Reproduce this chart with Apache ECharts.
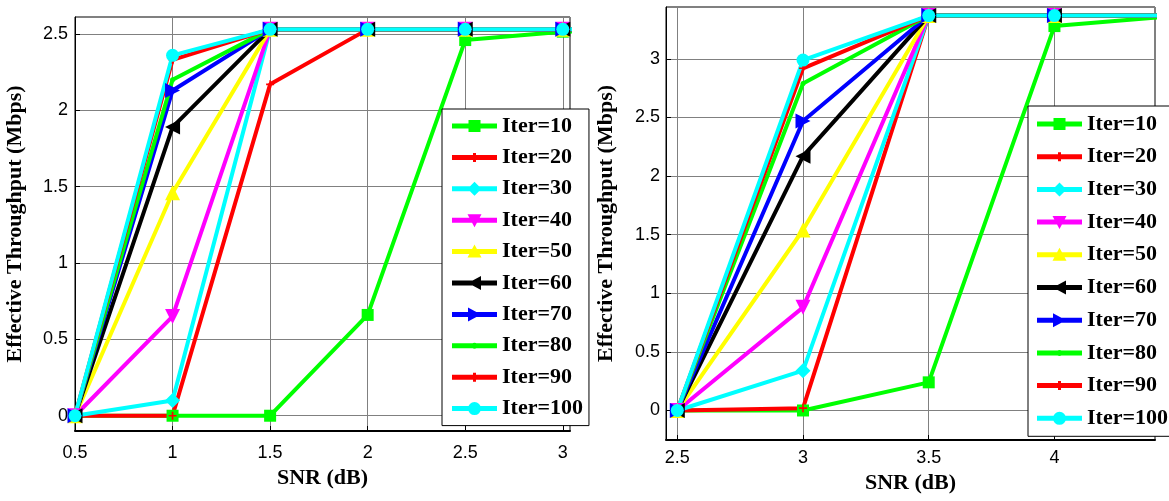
<!DOCTYPE html>
<html>
<head>
<meta charset="utf-8">
<script src="https://cdn.jsdelivr.net/npm/echarts@6/dist/echarts.min.js"></script>
<style>
html,body{margin:0;padding:0;background:#fff;}
#chart{width:1169px;height:501px;}
</style>
</head>
<body>
<div id="chart"></div>
<script>
// ---------- data ----------
const seriesNames = ['Iter=10','Iter=20','Iter=30','Iter=40','Iter=50','Iter=60','Iter=70','Iter=80','Iter=90','Iter=100'];

const leftSNR = [0.5, 1, 1.5, 2, 2.5, 3, 3.5];
const leftIter10  = [0, 0,     0,    0.66, 2.46, 2.515, 2.53];
const leftIter20  = [0, 0,     2.17, 2.53, 2.53, 2.53, 2.53];
const leftIter30  = [0, 0.10,  2.53, 2.53, 2.53, 2.53, 2.53];
const leftIter40  = [0, 0.65,  2.53, 2.53, 2.53, 2.53, 2.53];
const leftIter50  = [0, 1.46,  2.53, 2.53, 2.53, 2.53, 2.53];
const leftIter60  = [0, 1.89,  2.53, 2.53, 2.53, 2.53, 2.53];
const leftIter70  = [0, 2.13,  2.53, 2.53, 2.53, 2.53, 2.53];
const leftIter80  = [0, 2.20,  2.53, 2.53, 2.53, 2.53, 2.53];
const leftIter90  = [0, 2.33,  2.53, 2.53, 2.53, 2.53, 2.53];
const leftIter100 = [0, 2.36,  2.53, 2.53, 2.53, 2.53, 2.53];

const rightSNR = [2.5, 3, 3.5, 4, 4.5];
const rightIter10  = [0, 0,    0.24, 3.28, 3.37];
const rightIter20  = [0, 0.02, 3.37, 3.37, 3.37];
const rightIter30  = [0, 0.34, 3.37, 3.37, 3.37];
const rightIter40  = [0, 0.88, 3.37, 3.37, 3.37];
const rightIter50  = [0, 1.54, 3.37, 3.37, 3.37];
const rightIter60  = [0, 2.17, 3.37, 3.37, 3.37];
const rightIter70  = [0, 2.47, 3.37, 3.37, 3.37];
const rightIter80  = [0, 2.79, 3.37, 3.37, 3.37];
const rightIter90  = [0, 2.92, 3.37, 3.37, 3.37];
const rightIter100 = [0, 2.99, 3.37, 3.37, 3.37];

const leftValues  = [leftIter10,leftIter20,leftIter30,leftIter40,leftIter50,leftIter60,leftIter70,leftIter80,leftIter90,leftIter100];
const rightValues = [rightIter10,rightIter20,rightIter30,rightIter40,rightIter50,rightIter60,rightIter70,rightIter80,rightIter90,rightIter100];

const xTitle = 'SNR (dB)';
const yTitle = 'Effective Throughput (Mbps)';

// ---------- styles ----------
const PLUS = 'path://M0,4L10,4L10,6L0,6Z M4,0L6,0L6,10L4,10Z';
const styles = [
  {color:'#00ff00', symbol:'rect', size:12, rot:0},
  {color:'#ff0000', symbol:PLUS, size:8, rot:0},
  {color:'#00ffff', symbol:'diamond', size:15, rot:0},
  {color:'#ff00ff', symbol:'triangle', size:15, rot:180},
  {color:'#ffff00', symbol:'triangle', size:15, rot:0},
  {color:'#000000', symbol:'triangle', size:15, rot:90},
  {color:'#0000ff', symbol:'triangle', size:15, rot:-90},
  {color:'#00ff00', symbol:'circle', size:5, rot:0},
  {color:'#ff0000', symbol:PLUS, size:8, rot:0},
  {color:'#00ffff', symbol:'circle', size:13, rot:0}
];

// legend icons: line + marker drawn in a 45x16 box
const BOX = 'M0,0L0.01,0L0.01,0.01Z M44.99,15.99L45,15.99L45,16L44.99,16Z ';
const LINE = 'M0,5.5L45,5.5L45,10.5L0,10.5Z ';
const markerPaths = [
  'M16.5,2L28.5,2L28.5,14L16.5,14Z',
  'M21,3.5L24,3.5L24,12.5L21,12.5Z',
  'M22.5,1L29.5,8L22.5,15L15.5,8Z',
  'M15.5,2L29.5,2L22.5,15Z',
  'M22.5,1L29.5,14L15.5,14Z',
  'M16,8L29,1L29,15Z',
  'M29,8L16,15L16,1Z',
  'M19.5,8A3,3 0 1,1 25.5,8A3,3 0 1,1 19.5,8Z',
  'M21,3.5L24,3.5L24,12.5L21,12.5Z',
  'M16,8A6.5,6.5 0 1,1 29,8A6.5,6.5 0 1,1 16,8Z'
];
const legendIcons = markerPaths.map(p => 'path://' + BOX + LINE + p);

function makeSeries(xs, values, idx) {
  return values.map((vals, i) => ({
    name: seriesNames[i],
    type: 'line',
    xAxisIndex: idx, yAxisIndex: idx,
    data: xs.map((x, j) => [x, vals[j]]),
    symbol: styles[i].symbol,
    symbolSize: styles[i].size,
    symbolRotate: styles[i].rot,
    showSymbol: true,
    clip: true,
    lineStyle: {color: styles[i].color, width: 4},
    itemStyle: {color: styles[i].color},
    emphasis: {disabled: true}
  }));
}

const tickFont = {fontFamily:'Liberation Sans', fontSize:18, color:'#000'};
const titleFont = {fontFamily:'Liberation Serif', fontWeight:'bold', fontSize:22, color:'#000'};
const split = {show:true, lineStyle:{color:'#808080', width:1}};

function xAxis(idx, min, max, splitN, margin, gap) {
  return {
    type:'value', gridIndex: idx, min, max, splitNumber: splitN,
    name: xTitle, nameLocation:'middle', nameGap: gap, nameTextStyle: titleFont,
    axisLine:{show:true, onZero:false, lineStyle:{color:'#000', width:2}},
    axisTick:{show:true, inside:true, length:5, lineStyle:{color:'#000'}},
    axisLabel:{...tickFont, margin, showMinLabel: idx===0, showMaxLabel:false},
    splitLine: split
  };
}
function yAxis(idx, min, max, splitN, margin, gap) {
  return {
    type:'value', gridIndex: idx, min, max, splitNumber: splitN,
    name: yTitle, nameLocation:'middle', nameGap: gap, nameRotate: 90, nameTextStyle: titleFont,
    axisLine:{show:true, onZero:false, lineStyle:{color:'#000', width:1}},
    axisTick:{show:true, inside:true, length:5, lineStyle:{color:'#000'}},
    axisLabel:{...tickFont, margin, showMinLabel:false, showMaxLabel:false},
    splitLine: split
  };
}

function legend(left, top, pad, gap) {
  return {
    show:true, orient:'vertical', left, top,
    data: seriesNames.map((n, i) => ({name: n, icon: legendIcons[i]})),
    padding: pad, itemGap: gap,
    itemWidth: 45, itemHeight: 16,
    symbolRotate: 0,
    itemStyle:{borderWidth:0},
    backgroundColor:'#fff', borderColor:'#000', borderWidth:1, borderRadius:0,
    textStyle:{fontFamily:'Liberation Serif', fontWeight:'bold', fontSize:22, lineHeight:21, color:'#000'},
    selectedMode:false
  };
}

const chart = echarts.init(document.getElementById('chart'), null, {renderer:'canvas'});
chart.setOption({
  animation:false,
  backgroundColor:'#fff',
  grid:[
    {left:75, top:17, width:495, height:414, show:true, borderColor:'#000', borderWidth:1, backgroundColor:'transparent'},
    {left:666, top:7, width:489, height:433, show:true, borderColor:'#000', borderWidth:1, backgroundColor:'transparent'}
  ],
  xAxis:[ xAxis(0, 0.5, 3.037, 5, 13, 28), xAxis(1, 2.455, 4.40, 4, 9, 29) ],
  yAxis:[ yAxis(0, -0.1, 2.611, 5, 7, 49), yAxis(1, -0.252, 3.443, 8, 6, 49) ],
  legend:[ legend(442, 109, [6,6,6,10], 9.4), legend(1028, 106, [7,5,7,9], 10.7) ],
  series:[ ...makeSeries(leftSNR, leftValues, 0), ...makeSeries(rightSNR, rightValues, 1) ]
});
</script>
</body>
</html>
